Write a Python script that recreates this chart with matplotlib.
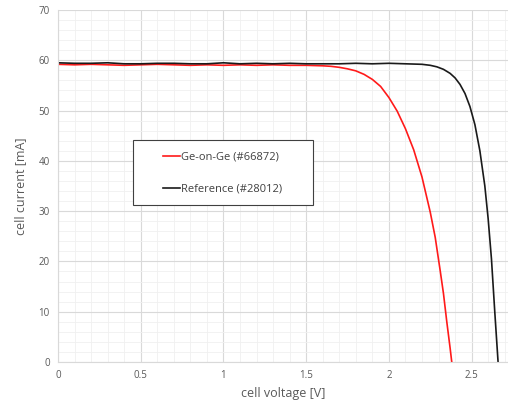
import numpy as np
import matplotlib.pyplot as plt
from matplotlib.ticker import MultipleLocator
from matplotlib.patches import Rectangle

# Ge-on-Ge (#66872)
ge_v = [0.0, 0.1, 0.2, 0.3, 0.4, 0.5, 0.6, 0.7, 0.8, 0.9, 1.0, 1.1, 1.2, 1.3, 1.4,
        1.5, 1.6, 1.65, 1.7, 1.75, 1.8, 1.85, 1.9, 1.95, 2.0, 2.05, 2.1, 2.15, 2.2,
        2.25, 2.28, 2.31, 2.33, 2.35, 2.37, 2.38]
ge_i = [59.2, 59.1, 59.2, 59.1, 59.0, 59.1, 59.2, 59.1, 59.0, 59.1, 59.0, 59.1, 59.0,
        59.1, 59.0, 59.0, 58.9, 58.8, 58.6, 58.3, 57.9, 57.2, 56.2, 54.8, 52.6, 49.9,
        46.4, 42.2, 36.8, 29.8, 24.8, 18.2, 13.6, 8.0, 2.8, 0.0]

# Reference (#28012)
ref_v = [0.0, 0.1, 0.2, 0.3, 0.4, 0.5, 0.6, 0.7, 0.8, 0.9, 1.0, 1.1, 1.2, 1.3, 1.4,
         1.5, 1.6, 1.7, 1.8, 1.9, 2.0, 2.1, 2.2, 2.25, 2.29, 2.33, 2.37, 2.4, 2.43,
         2.46, 2.49, 2.52, 2.55, 2.58, 2.6, 2.62, 2.64, 2.66]
ref_i = [59.5, 59.4, 59.4, 59.5, 59.3, 59.3, 59.4, 59.4, 59.3, 59.3, 59.5, 59.3, 59.4,
         59.3, 59.4, 59.3, 59.3, 59.3, 59.4, 59.3, 59.4, 59.3, 59.2, 59.0, 58.7, 58.2,
         57.4, 56.5, 55.2, 53.4, 50.8, 47.2, 42.0, 35.0, 28.5, 20.5, 10.0, 0.0]

plt.rcParams['font.family'] = ['Open Sans', 'DejaVu Sans']

fig = plt.figure(figsize=(5.08, 4.03), dpi=100)
ax = fig.add_axes([58 / 508, 41 / 403, 450 / 508, 352 / 403])

ax.plot(ge_v, ge_i, color='#ff1a1a', linewidth=1.2, label='Ge-on-Ge (#66872)')
ax.plot(ref_v, ref_i, color='#1a1a1a', linewidth=1.2, label='Reference (#28012)')

ax.set_xlim(0, 2.72)
ax.set_ylim(0, 70)
ax.xaxis.set_major_locator(MultipleLocator(0.5))
ax.xaxis.set_minor_locator(MultipleLocator(0.1))
ax.yaxis.set_major_locator(MultipleLocator(10))
ax.yaxis.set_minor_locator(MultipleLocator(2))
ax.set_xticks([0, 0.5, 1, 1.5, 2, 2.5])
ax.set_xticklabels(['0', '0.5', '1', '1.5', '2', '2.5'])

ax.grid(which='major', color='#d9d9d9', linewidth=0.8)
ax.grid(which='minor', color='#f0f0f0', linewidth=0.6)
ax.set_axisbelow(True)

for side in ['top', 'right']:
    ax.spines[side].set_visible(False)
for side in ['left', 'bottom']:
    ax.spines[side].set_color('#d9d9d9')

ax.tick_params(which='both', length=0, colors='#595959', labelsize=7, pad=6)
ax.set_xlabel('cell voltage [V]', color='#595959', fontsize=9, labelpad=4)
ax.set_ylabel('cell current [mA]', color='#595959', fontsize=9, labelpad=8)

# legend box drawn separately so the entries can sit inset like the original
box = Rectangle((75 / 450, 157 / 352), 180 / 450, 65 / 352, transform=ax.transAxes,
                facecolor='white', edgecolor='#404040', linewidth=0.8, zorder=4)
ax.add_patch(box)
leg = ax.legend(loc='center left', bbox_to_anchor=(105 / 450, 189 / 352),
                frameon=False, fontsize=8, handlelength=1.5, handletextpad=0.15,
                labelspacing=1.9, borderpad=0, borderaxespad=0)
leg.set_zorder(5)
for t in leg.get_texts():
    t.set_color('#404040')

fig.savefig('out.png', dpi=100)
